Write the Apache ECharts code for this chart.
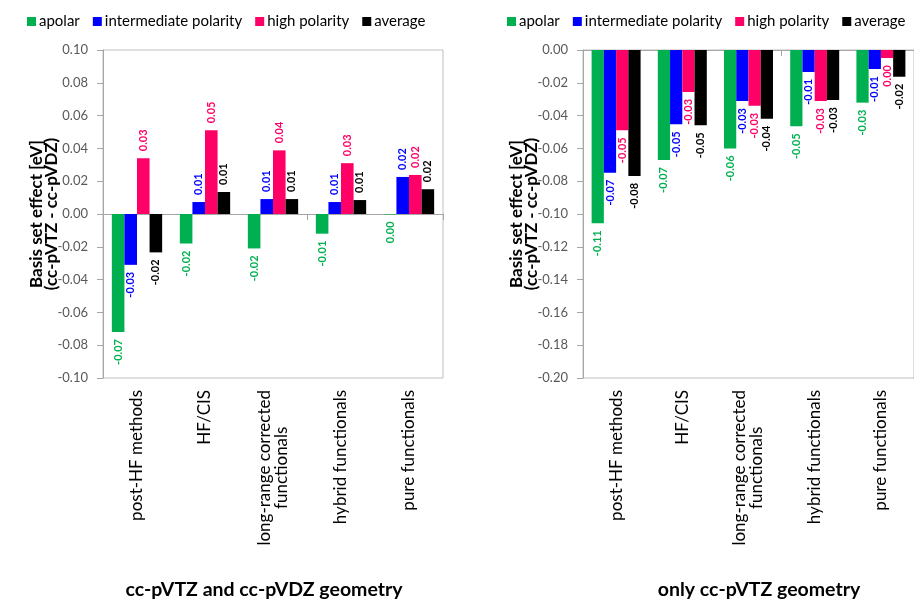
<!DOCTYPE html>
<html>
<head>
<meta charset="utf-8">
<script src="https://cdn.jsdelivr.net/npm/echarts@6/dist/echarts.min.js"></script>
<style>
html,body{margin:0;padding:0;background:#fff;}
#chart{width:914px;height:601px;}
</style>
</head>
<body>
<div id="chart"></div>
<script>
var categories = ['post-HF methods', 'HF/CIS', 'long-range corrected\nfunctionals', 'hybrid functionals', 'pure functionals'];
var seriesNames = ['apolar', 'intermediate polarity', 'high polarity', 'average'];
var seriesColors = ['#00B050', '#0000FF', '#FF0066', '#000000'];

// left panel: cc-pVTZ and cc-pVDZ geometry
var leftApolar = [-0.072, -0.018, -0.021, -0.012, -0.0003];
var leftIntermediate = [-0.031, 0.0073, 0.0091, 0.0073, 0.0226];
var leftHigh = [0.034, 0.051, 0.0388, 0.031, 0.0238];
var leftAverage = [-0.0234, 0.0134, 0.0091, 0.0085, 0.0151];

// right panel: only cc-pVTZ geometry
var rightApolar = [-0.1057, -0.0671, -0.0600, -0.0465, -0.0321];
var rightIntermediate = [-0.0748, -0.0453, -0.0311, -0.0134, -0.0116];
var rightHigh = [-0.049, -0.0256, -0.034, -0.0311, -0.0049];
var rightAverage = [-0.0768, -0.0459, -0.0419, -0.0305, -0.0163];

var leftTitle = 'cc-pVTZ and cc-pVDZ geometry';
var rightTitle = 'only cc-pVTZ geometry';
var yName = 'Basis set effect [eV]\n(cc-pVTZ - cc-pVDZ)';

var FONT = 'Lato';
var leftSets = [leftApolar, leftIntermediate, leftHigh, leftAverage];
var rightSets = [rightApolar, rightIntermediate, rightHigh, rightAverage];

function fmt(v) {
  var s = v.toFixed(2);
  if (s === '-0.00') s = '0.00';
  return s;
}

function buildSeries(sets, gridIdx) {
  return sets.map(function (vals, i) {
    return {
      name: seriesNames[i],
      type: 'bar',
      xAxisIndex: gridIdx * 2,
      yAxisIndex: gridIdx,
      barGap: '0%',
      barCategoryGap: '26%',
      itemStyle: { color: seriesColors[i] },
      label: {
        show: true,
        rotate: 90,
        distance: 7,
        fontFamily: FONT,
        fontSize: 11,
        fontWeight: 'bold',
        color: seriesColors[i],
        formatter: function (p) { return fmt(p.value); }
      },
      data: vals.map(function (v) {
        return {
          value: v,
          label: {
            position: v >= 0 ? 'top' : 'bottom',
            align: v >= 0 ? 'left' : 'right',
            verticalAlign: 'middle'
          }
        };
      })
    };
  });
}

function zeroAxis(gridIdx) {
  return {
    type: 'category', gridIndex: gridIdx, position: 'top',
    data: categories,
    axisLine: { show: true, onZero: true, lineStyle: { color: '#A6A6A6', width: 1 } },
    axisTick: { show: true, inside: true, length: 6, lineStyle: { color: '#A6A6A6' } },
    axisLabel: { show: false },
    splitLine: { show: false }
  };
}
function labelAxis(gridIdx) {
  return {
    type: 'category', gridIndex: gridIdx, position: 'bottom',
    data: categories,
    axisLine: { show: false, onZero: false },
    axisTick: { show: false },
    splitLine: { show: false },
    axisLabel: {
      interval: 0, rotate: 90, margin: 12,
      fontFamily: FONT, fontSize: 17, color: '#000',
      formatter: function (v) {
        return v.split('\n').map(function (l) { return '{c|' + l + '}'; }).join('\n');
      },
      rich: { c: { align: 'center', fontFamily: FONT, fontSize: 17, lineHeight: 17, color: '#000' } }
    }
  };
}
function valueAxis(gridIdx, min, max) {
  return {
    type: 'value', gridIndex: gridIdx, min: min, max: max, interval: 0.02,
    name: yName, nameLocation: 'middle', nameRotate: 90, nameGap: 44, nameMoveOverlap: false,
    nameTextStyle: { fontFamily: FONT, fontSize: 17, fontWeight: 'bold', color: '#000', lineHeight: 15, align: 'center' },
    axisLine: { show: true, lineStyle: { color: '#A6A6A6' } },
    axisTick: { show: true, length: 6, lineStyle: { color: '#A6A6A6' } },
    splitLine: { show: false },
    axisLabel: {
      margin: 15, fontFamily: FONT, fontSize: 13, color: '#595959',
      formatter: function (v) { return v.toFixed(2); }
    }
  };
}
function legend(left) {
  return {
    left: left, top: 14, padding: 0, itemWidth: 9, itemHeight: 9, itemGap: 13, icon: 'rect',
    width: 400,
    data: seriesNames,
    textStyle: { fontFamily: FONT, fontSize: 15, color: '#000', padding: [0, 0, 0, -2] }
  };
}

var chart = echarts.init(document.getElementById('chart'), null, { renderer: 'canvas' });
chart.setOption({
  animation: false,
  backgroundColor: '#fff',
  title: [
    { text: leftTitle, left: 259, top: 575, textAlign: 'center',
      textStyle: { fontFamily: FONT, fontSize: 19.5, fontWeight: 'bold', color: '#000' } },
    { text: rightTitle, left: 754, top: 575, textAlign: 'center',
      textStyle: { fontFamily: FONT, fontSize: 19.5, fontWeight: 'bold', color: '#000' } }
  ],
  legend: [legend(27), legend(507)],
  grid: [
    { left: 103, top: 50, width: 340, height: 328, show: true, borderColor: '#BFBFBF', borderWidth: 1, containLabel: false },
    { left: 583, top: 50, width: 340, height: 328, show: true, borderColor: '#BFBFBF', borderWidth: 1, containLabel: false }
  ],
  xAxis: [zeroAxis(0), labelAxis(0), zeroAxis(1), labelAxis(1)],
  yAxis: [valueAxis(0, -0.1, 0.1), valueAxis(1, -0.2, 0)],
  series: buildSeries(leftSets, 0).concat(buildSeries(rightSets, 1))
});
</script>
</body>
</html>
